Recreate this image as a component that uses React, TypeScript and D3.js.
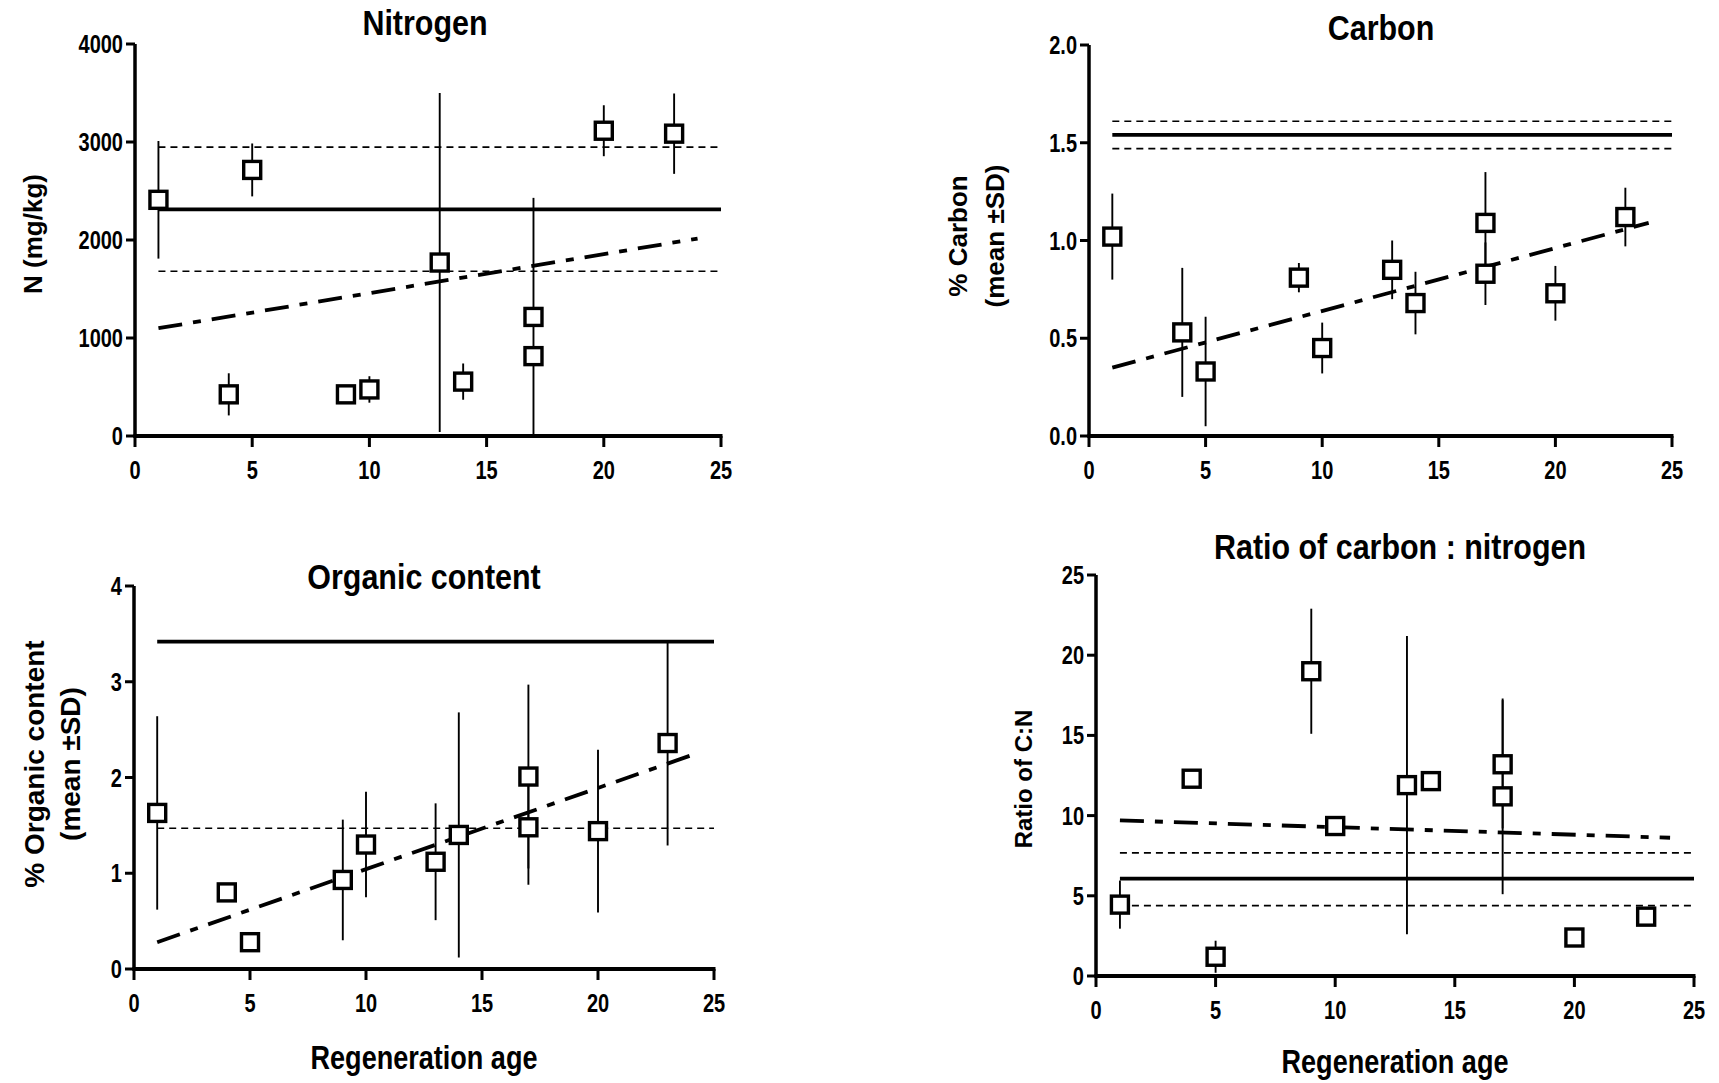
import React from "react";
import * as d3 from "d3";

// ---------- data ----------
const nAge = [1, 4, 5, 9, 10, 13, 14, 17, 17, 20, 23];
const nMean = [2410, 425, 2715, 425, 475, 1770, 555, 1215, 815, 3115, 3085];
const nSD = [600, 215, 270, 0, 135, 1730, 185, 1215, 0, 260, 410];
const nRef = { mean: 2312, upper: 2947, lower: 1681 };
const nFit = [1100, 2015];

const cAge = [1, 4, 5, 9, 10, 13, 14, 17, 17, 20, 23];
const cMean = [1.02, 0.53, 0.33, 0.81, 0.45, 0.85, 0.68, 1.09, 0.83, 0.73, 1.12];
const cSD = [0.22, 0.33, 0.28, 0.075, 0.13, 0.15, 0.16, 0.26, 0.16, 0.14, 0.15];
const cRef = { mean: 1.54, upper: 1.61, lower: 1.47 };
const cFit = [0.35, 1.09];

const oAge = [1, 4, 5, 9, 10, 13, 14, 17, 17, 20, 23];
const oMean = [1.63, 0.8, 0.28, 0.93, 1.3, 1.12, 1.4, 2.01, 1.48, 1.44, 2.36];
const oSD = [1.01, 0, 0, 0.63, 0.55, 0.61, 1.28, 0.96, 0.6, 0.85, 1.07];
const oRef = { mean: 3.42, upper: null as number | null, lower: 1.47 };
const oFit = [0.28, 2.23];

const rAge = [1, 4, 5, 9, 10, 13, 14, 17, 17, 20, 23];
const rMean = [4.45, 12.3, 1.2, 19.0, 9.35, 11.9, 12.15, 13.2, 11.2, 2.4, 3.7];
const rSD = [1.5, 0, 1.0, 3.9, 0, 9.3, 0, 4.0, 6.1, 0, 0];
const rRef = { mean: 6.07, upper: 7.67, lower: 4.39 };
const rFit = [9.7, 8.62];

const xTicks = [0, 5, 10, 15, 20, 25];
const fitX = [1, 24];
const refX = [1, 25];

const FONT = "'Liberation Sans', Arial, Helvetica, sans-serif";

function CText(props: { x: number; y: number; size: number; sx: number; anchor?: string; dy?: string; children: React.ReactNode }) {
  return (
    <text transform={`translate(${props.x},${props.y}) scale(${props.sx},1)`}
      textAnchor={props.anchor || "middle"} dy={props.dy}
      fontFamily={FONT} fontWeight="bold" fontSize={props.size}>{props.children}</text>
  );
}

type PanelProps = {
  x0: number; x1: number; y0: number; y1: number;
  yMax: number; yTicks: number[]; fmt: (v: number) => string;
  age: number[]; mean: number[]; sd: number[];
  refs: { mean: number; upper: number | null; lower: number };
  fit: number[];
  title: string; titleX: number; titleY: number;
  yLabel: string[]; yLabelX: number[]; yLabelY: number; yLabelSize: number;
  xLabel?: string; xLabelY?: number;
};

function Panel(p: PanelProps) {
  const x = d3.scaleLinear().domain([0, 25]).range([p.x0, p.x1]);
  const y = d3.scaleLinear().domain([0, p.yMax]).range([p.y0, p.y1]);
  const line = d3.line<[number, number]>().x(d => x(d[0])).y(d => y(d[1]));
  const sq = 17;
  const refLines: { v: number; dashed: boolean }[] = [{ v: p.refs.mean, dashed: false }, { v: p.refs.lower, dashed: true }];
  if (p.refs.upper != null) refLines.push({ v: p.refs.upper, dashed: true });
  return (
    <g>
      {refLines.map((r, i) => (
        <path key={"r" + i}
          d={line([[refX[0], r.v], [refX[1], r.v]])!}
          stroke="#000" fill="none"
          strokeWidth={r.dashed ? 1.7 : 3.8}
          strokeDasharray={r.dashed ? "7 5" : undefined} />
      ))}
      <path d={line([[fitX[0], p.fit[0]], [fitX[1], p.fit[1]]])!}
        stroke="#000" fill="none" strokeWidth={3.8} strokeDasharray="24 11 8 11" />
      {p.age.map((a, i) => p.sd[i] > 0 ? (
        <line key={"e" + i} x1={x(a)} x2={x(a)}
          y1={y(Math.min(p.yMax, p.mean[i] + p.sd[i]))}
          y2={y(Math.max(0, p.mean[i] - p.sd[i]))}
          stroke="#000" strokeWidth={1.9} />
      ) : null)}
      {p.age.map((a, i) => (
        <rect key={"m" + i} x={x(a) - sq / 2} y={y(p.mean[i]) - sq / 2} width={sq} height={sq}
          fill="#fff" stroke="#000" strokeWidth={3.4} />
      ))}
      <line x1={p.x0} x2={p.x0} y1={p.y0 + 1.5} y2={p.y1} stroke="#000" strokeWidth={3.5} />
      <line x1={p.x0 - 1.5} x2={p.x1 + 1.5} y1={p.y0} y2={p.y0} stroke="#000" strokeWidth={4} />
      {p.yTicks.map(t => (
        <g key={"yt" + t}>
          <line x1={p.x0 - 9} x2={p.x0} y1={y(t)} y2={y(t)} stroke="#000" strokeWidth={3} />
          <CText x={p.x0 - 12} y={y(t)} dy="0.36em" anchor="end" size={25} sx={0.8}>{p.fmt(t)}</CText>
        </g>
      ))}
      {xTicks.map(t => (
        <g key={"xt" + t}>
          <line x1={x(t)} x2={x(t)} y1={p.y0} y2={p.y0 + 11} stroke="#000" strokeWidth={3} />
          <CText x={x(t)} y={p.y0 + 43} size={25} sx={0.8}>{t}</CText>
        </g>
      ))}
      <CText x={p.titleX} y={p.titleY} size={35} sx={0.87}>{p.title}</CText>
      {p.yLabel.map((s, i) => (
        <text key={"yl" + i} transform={`translate(${p.yLabelX[i]},${p.yLabelY}) rotate(-90)`}
          textAnchor="middle" dy="0.36em" fontFamily={FONT} fontWeight="bold" fontSize={p.yLabelSize}>{s}</text>
      ))}
      {p.xLabel ? (
        <CText x={(p.x0 + p.x1) / 2} y={p.xLabelY!} size={33} sx={0.82}>{p.xLabel}</CText>
      ) : null}
    </g>
  );
}

export default function App() {
  return (
    <svg width={1719} height={1083} style={{ position: "absolute", left: 0, top: 0, background: "#fff" }}>
      <rect x={0} y={0} width={1719} height={1083} fill="#fff" />
      <Panel x0={135} x1={721} y0={436} y1={44} yMax={4000} yTicks={[0, 1000, 2000, 3000, 4000]} fmt={v => String(v)}
        age={nAge} mean={nMean} sd={nSD} refs={nRef} fit={nFit}
        title="Nitrogen" titleX={425} titleY={35}
        yLabel={["N (mg/kg)"]} yLabelX={[33]} yLabelY={234} yLabelSize={26} />
      <Panel x0={1089} x1={1672} y0={436} y1={45} yMax={2} yTicks={[0, 0.5, 1, 1.5, 2]} fmt={v => v.toFixed(1)}
        age={cAge} mean={cMean} sd={cSD} refs={cRef} fit={cFit}
        title="Carbon" titleX={1381} titleY={40}
        yLabel={["% Carbon", "(mean \u00b1SD)"]} yLabelX={[958, 995]} yLabelY={236} yLabelSize={26} />
      <Panel x0={134} x1={714} y0={969} y1={586} yMax={4} yTicks={[0, 1, 2, 3, 4]} fmt={v => String(v)}
        age={oAge} mean={oMean} sd={oSD} refs={oRef} fit={oFit}
        title="Organic content" titleX={424} titleY={589}
        yLabel={["% Organic content", "(mean \u00b1SD)"]} yLabelX={[34, 70]} yLabelY={764} yLabelSize={28} />
      <Panel x0={1096} x1={1694} y0={976} y1={575} yMax={25} yTicks={[0, 5, 10, 15, 20, 25]} fmt={v => String(v)}
        age={rAge} mean={rMean} sd={rSD} refs={rRef} fit={rFit}
        title="Ratio of carbon : nitrogen" titleX={1400} titleY={559}
        yLabel={["Ratio of C:N"]} yLabelX={[1023]} yLabelY={779} yLabelSize={24}
        xLabel="Regeneration age" xLabelY={1073} />
      <text transform="translate(424,1069) scale(0.82,1)" textAnchor="middle" fontFamily={FONT} fontWeight="bold" fontSize={33}>Regeneration age</text>
    </svg>
  );
}
